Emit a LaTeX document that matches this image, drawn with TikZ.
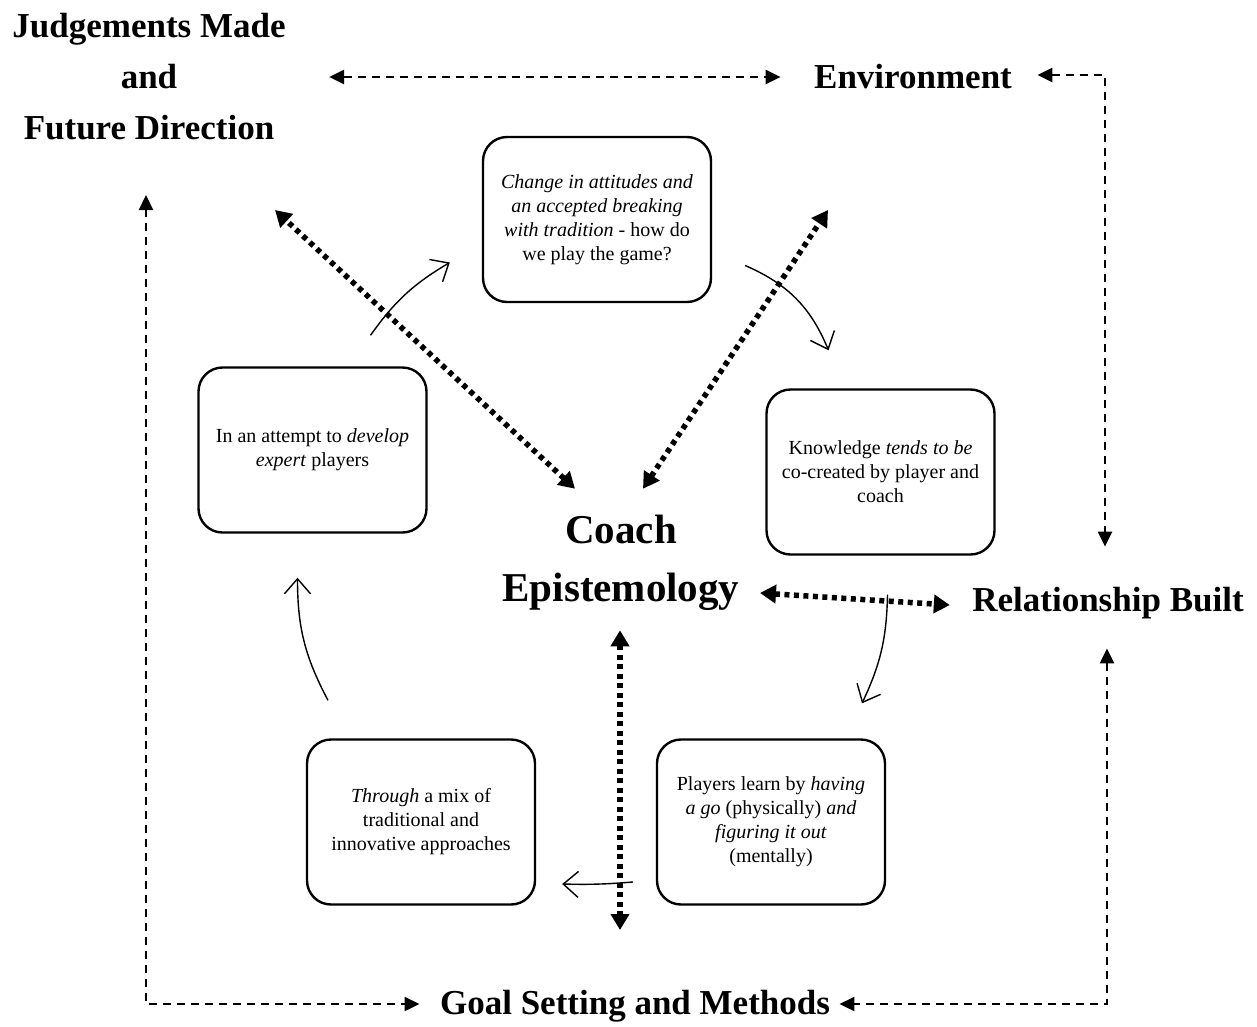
\documentclass[tikz,border=0pt]{standalone}
\usepackage{fontspec}
\setmainfont{Liberation Serif}
\usetikzlibrary{arrows.meta,calc}
\begin{document}
\begin{tikzpicture}[x=1pt,y=-1pt,
  box/.style={draw, line width=2.4pt, rounded corners=24pt, minimum width=228pt, minimum height=165pt, align=center, font=\fontsize{20}{24}\selectfont, inner sep=0pt},
  title/.style={font=\fontsize{35}{51}\selectfont\bfseries, align=center},
  dashar/.style={line width=2.3pt, dash pattern=on 8pt off 6pt, {Triangle[length=15pt,width=14pt]}-{Triangle[length=15pt,width=14pt]}},
  dotar/.style={line width=5.5pt, dash pattern=on 5pt off 4.5pt, {Triangle[length=16pt,width=18pt]}-{Triangle[length=16pt,width=18pt]}},
  cyc/.style={line width=1.4pt, -{Straight Barb[length=15pt,width=26pt,line width=1.4pt]}}
]
\useasboundingbox (0,0) rectangle (1257,1026);

% titles
\node[title] (judg) at (149,77) {Judgements Made\\and\\Future Direction};
\node[title] (env) at (913,77) {Environment};
\node[title] (rel) at (1108,603) {Relationship Built};
\node[title] (goal) at (635,1006) {Goal Setting and Methods};
\node[font=\fontsize{41}{58}\selectfont\bfseries, align=center] (coach) at (621,563) {Coach\\Epistemology};

% boxes
\node[box] (tb) at (597,219.5) {\textit{Change in attitudes and}\\\textit{an accepted breaking}\\\textit{with tradition} - how do\\we play the game?};
\node[box] (rb) at (880.5,472) {Knowledge \textit{tends to be}\\co-created by player and\\coach};
\node[box] (lb) at (312.5,450) {In an attempt to \textit{develop}\\\textit{expert} players};
\node[box] (blb) at (421,822) {\textit{Through} a mix of\\traditional and\\innovative approaches};
\node[box] (brb) at (771,822) {Players learn by \textit{having}\\\textit{a go} (physically) \textit{and}\\\textit{figuring it out}\\(mentally)};

% free ends
\coordinate (ul) at (275,210);
\coordinate (ur) at (828,210);
\coordinate (vb) at (620,930);
\coordinate (jl) at (146,195);

% outer dashed connectors
\draw[dashar, shorten <=40pt, shorten >=30pt] (judg.east) -- (env.west);
\draw[dashar, shorten <=22pt, shorten >=37pt] ($(env.east)+(0,-2)$) -| ($(rel.north)+(-3,0)$);
\draw[dashar, shorten <=26pt, shorten >=6pt] ($(rel.south)+(-1,0)$) |- ($(goal.east)+(0,-2)$) ;
\draw[dashar, shorten >=17pt] (jl) |- ($(goal.west)+(0,-2)$);

% dotted connectors
\draw[dotar] ($(coach.north)+(-46,-23)$) -- (ul);
\draw[dotar] ($(coach.north)+(22,-23)$) -- (ur);
\draw[dotar] ($(coach.east)+(17,30)$) -- ($(rel.west)+(-19,2)$);
\draw[dotar] ($(coach.south)+(-1,16)$) -- (vb);

% cycle arrows
\draw[cyc] ($(lb.north)+(58,-31)$) to[bend left=12] ($(tb.west)+(-32,43)$);
\draw[cyc] ($(tb.east)+(33,46)$) to[bend left=22] ($(rb.north)+(-52,-38)$);
\draw[cyc] ($(rb.south)+(7,39)$) to[bend left=12] ($(brb.north)+(91,-35)$);
\draw[cyc] ($(brb.west)+(-23,60)$) to[bend left=3] ($(blb.east)+(26,62)$);
\draw[cyc] ($(blb.north)+(-93,-38)$) to[bend left=14] ($(lb.south)+(-15,44)$);
\end{tikzpicture}
\end{document}
